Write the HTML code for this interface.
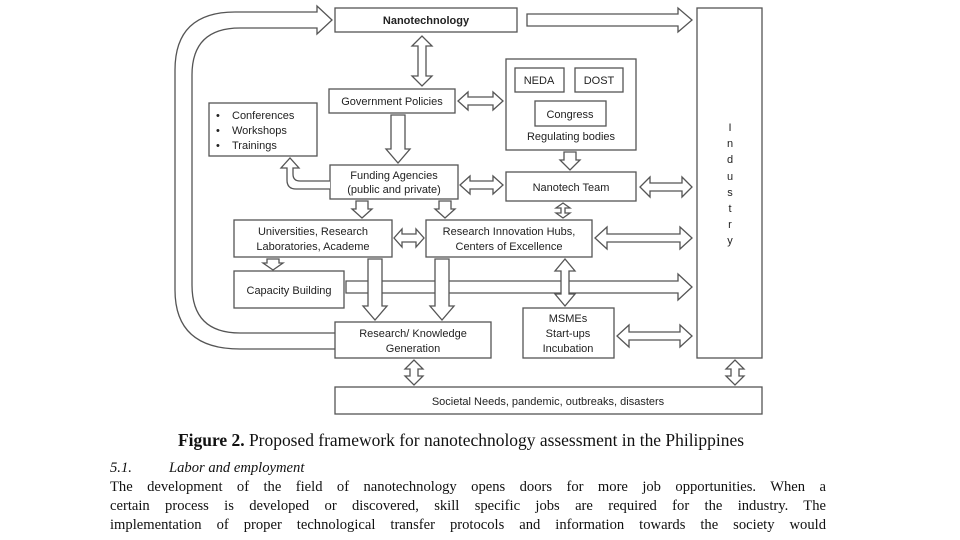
<!DOCTYPE html>
<html><head><meta charset="utf-8"><style>
body{margin:0;width:960px;height:540px;background:#fff;overflow:hidden;position:relative}
svg{position:absolute;left:0;top:0}
.t{font-family:"Liberation Sans",sans-serif;font-size:11px;fill:#222}
.p{position:absolute;left:110px;width:716px;font-family:"Liberation Serif",serif;font-size:14.6px;color:#111;text-align:justify;text-align-last:justify;line-height:19px;white-space:nowrap}
</style></head><body>
<svg width="960" height="540" viewBox="0 0 960 540">
<g fill="#fff" stroke="#555" stroke-width="1.3">
<path d="M335,349 L240,349 Q175,349 175,290 L175,70 Q175,12 235,12 L317,12 L317,6 L332,20 L317,34 L317,28 L240,28 Q192,28 192,75 L192,285 Q192,333 240,333 L335,333"/>
<rect x="335" y="8" width="182" height="24"/>
<rect x="697" y="8" width="65" height="350"/>
<rect x="329" y="89" width="126" height="24"/>
<rect x="209" y="103" width="108" height="53"/>
<rect x="506" y="59" width="130" height="91"/>
<rect x="515" y="68" width="49" height="24"/>
<rect x="575" y="68" width="48" height="24"/>
<rect x="535" y="101" width="71" height="25"/>
<rect x="330" y="165" width="128" height="34"/>
<rect x="506" y="172" width="130" height="29"/>
<rect x="234" y="220" width="158" height="37"/>
<rect x="426" y="220" width="166" height="37"/>
<rect x="234" y="271" width="110" height="37"/>
<rect x="335" y="322" width="156" height="36"/>
<rect x="523" y="308" width="91" height="50"/>
<rect x="335" y="387" width="427" height="27"/>
<polygon points="527,14 678,14 678,8 692,20 678,32 678,26 527,26"/>
<polygon points="418,46 412,46 422,36 432,46 426,46 426,76 432,76 422,86 412,76 418,76"/>
<polygon points="468,97 468,92 458,101 468,110 468,105 493,105 493,110 503,101 493,92 493,97"/>
<polygon points="391,115 405,115 405,149 410,149 398,163 386,149 391,149"/>
<path d="M330,181 L300,181 Q293,181 293,174 L293,168 L299,168 L290,158 L281,168 L287,168 L287,180 Q287,189 296,189 L330,189"/>
<polygon points="470,181 470,176 460,185 470,194 470,189 493,189 493,194 503,185 493,176 493,181"/>
<polygon points="564,152 576,152 576,160 580,160 570,170 560,160 564,160"/>
<polygon points="650,183 650,177 640,187 650,197 650,191 682,191 682,197 692,187 682,177 682,183"/>
<polygon points="356,201 368,201 368,209 372,209 362,218 352,209 356,209"/>
<polygon points="439,201 451,201 451,209 455,209 445,218 435,209 439,209"/>
<polygon points="561,208 556,208 563,203 570,208 565,208 565,213 570,213 563,218 556,213 561,213"/>
<polygon points="402,234 402,229 394,238 402,247 402,242 416,242 416,247 424,238 416,229 416,234"/>
<polygon points="607,234 607,227 595,238 607,249 607,242 680,242 680,249 692,238 680,227 680,234"/>
<polygon points="267,259 279,259 279,263 283,263 273,270 263,263 267,263"/>
<polygon points="346,281 678,281 678,274 692,287 678,300 678,293 346,293"/>
<polygon points="368,259 382,259 382,306 387,306 375,320 363,306 368,306"/>
<polygon points="435,259 449,259 449,306 454,306 442,320 430,306 435,306"/>
<polygon points="561,271 555,271 565,259 575,271 569,271 569,294 575,294 565,306 555,294 561,294"/>
<polygon points="629,332 629,325 617,336 629,347 629,340 680,340 680,347 692,336 680,325 680,332"/>
<polygon points="410,369 405,369 414,360 423,369 418,369 418,376 423,376 414,385 405,376 410,376"/>
<polygon points="731,369 726,369 735,360 744,369 739,369 739,376 744,376 735,385 726,376 731,376"/>
</g>
<g class="t" text-anchor="middle">
<text x="426" y="24" font-weight="bold">Nanotechnology</text>
<text x="392" y="105">Government Policies</text>
<text x="539" y="84">NEDA</text>
<text x="599" y="84">DOST</text>
<text x="570" y="118">Congress</text>
<text x="571" y="140">Regulating bodies</text>
<text x="394" y="179">Funding Agencies</text>
<text x="394" y="193">(public and private)</text>
<text x="571" y="191">Nanotech Team</text>
<text x="313" y="235">Universities, Research</text>
<text x="313" y="250">Laboratories, Academe</text>
<text x="509" y="235">Research Innovation Hubs,</text>
<text x="509" y="250">Centers of Excellence</text>
<text x="289" y="294">Capacity Building</text>
<text x="413" y="337">Research/ Knowledge</text>
<text x="413" y="352">Generation</text>
<text x="568" y="322">MSMEs</text>
<text x="568" y="337">Start-ups</text>
<text x="568" y="352">Incubation</text>
<text x="548" y="405">Societal Needs, pandemic, outbreaks, disasters</text>
<text x="730" y="131">I</text><text x="730" y="147">n</text><text x="730" y="163">d</text><text x="730" y="180">u</text><text x="730" y="196">s</text><text x="730" y="212">t</text><text x="730" y="228">r</text><text x="730" y="244">y</text>
</g>
<g class="t">
<text x="216" y="119">•</text><text x="232" y="119">Conferences</text>
<text x="216" y="134">•</text><text x="232" y="134">Workshops</text>
<text x="216" y="149">•</text><text x="232" y="149">Trainings</text>
</g>
<text x="461" y="446" text-anchor="middle" font-family="Liberation Serif,serif" font-size="17.4" fill="#111" textLength="566" lengthAdjust="spacingAndGlyphs"><tspan font-weight="bold">Figure 2.</tspan> Proposed framework for nanotechnology assessment in the Philippines</text>
<text x="110" y="472" font-family="Liberation Serif,serif" font-size="14.6" font-style="italic" fill="#111">5.1.</text>
<text x="169" y="472" font-family="Liberation Serif,serif" font-size="14.6" font-style="italic" fill="#111">Labor and employment</text>
</svg>
<div class="p" style="top:478px">The development of the field of nanotechnology opens doors for more job opportunities. When a</div>
<div class="p" style="top:497px">certain process is developed or discovered, skill specific jobs are required for the industry. The</div>
<div class="p" style="top:516px">implementation of proper technological transfer protocols and information towards the society would</div>
</body></html>
